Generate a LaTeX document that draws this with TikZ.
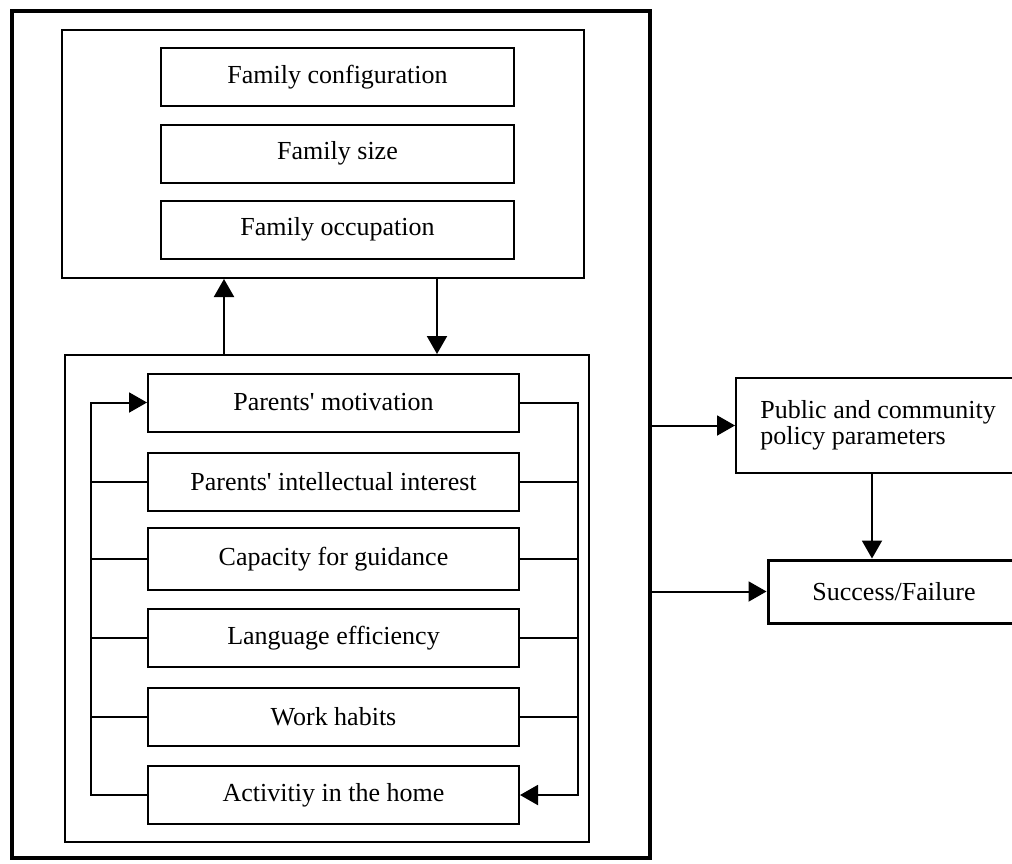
\documentclass[tikz,border=0pt]{standalone}
\usepackage{fontspec}
\setmainfont{Liberation Serif}
\usetikzlibrary{arrows.meta}
\begin{document}
\begin{tikzpicture}[x=.5pt, y=-.5pt, >={Triangle[length=9pt,width=10pt]},
  every node/.style={font=\fontsize{13}{13}\selectfont},
  famitem/.style={draw, line width=1pt, minimum width=176.5pt, minimum height=29pt, inner sep=0pt},
  homeitem/.style={draw, line width=1pt, minimum width=185.5pt, minimum height=29pt, inner sep=0pt},
  frame/.style={draw, line width=1pt, inner sep=0pt}]
\useasboundingbox (0,0) rectangle (1012,863);
\clip (0,0) rectangle (1012,863);
\node[frame, line width=2pt, minimum width=319pt, minimum height=423.5pt] (outer) at (331,434.5) {};
\node[frame, minimum width=261pt, minimum height=124pt] (fam) at (323,154) {};
\node[famitem] (config) at (337.5,77) {Family configuration};
\node[famitem] (size) at (337.5,153.5) {Family size};
\node[famitem] (occ) at (337.5,229.5) {Family occupation};
\node[frame, minimum width=262pt, minimum height=243.5pt] (home) at (327,598.5) {};
\node[homeitem] (mot) at (333.5,402.5) {Parents\textquotesingle{} motivation};
\node[homeitem] (int) at (333.5,481.5) {Parents\textquotesingle{} intellectual interest};
\node[homeitem, minimum height=31pt] (cap) at (333.5,559) {Capacity for guidance};
\node[homeitem] (lang) at (333.5,638) {Language efficiency};
\node[homeitem] (work) at (333.5,716.5) {Work habits};
\node[homeitem] (act) at (333.5,795) {Activitiy in the home};
\node[frame, minimum width=142pt, minimum height=47.5pt, align=left] (pub) at (878,425.5) {Public and community\\policy parameters};
\node[frame, line width=1.5pt, minimum width=126pt, minimum height=31.5pt] (succ) at (894,591.5) {Success/Failure};
\coordinate (lb) at (91,0);
\coordinate (rb) at (578,0);
\coordinate (ux) at (224,0);
\coordinate (dx) at (437,0);
\coordinate (vx) at (872,0);
\draw[->, line width=1pt] (home.north -| ux) -- (fam.south -| ux);
\draw[->, line width=1pt] (fam.south -| dx) -- (home.north -| dx);
\draw[->, line width=1pt] (act.west) -- (act.west -| lb) -- (mot.west -| lb) -- (mot.west);
\draw[->, line width=1pt] (mot.east) -- (mot.east -| rb) -- (act.east -| rb) -- (act.east);
\foreach \n in {int,cap,lang,work}
  \draw[line width=1pt] (\n.west -| lb) -- (\n.west) (\n.east) -- (\n.east -| rb);
\draw[->, line width=1pt] (outer.east |- pub.west) -- (pub.west);
\draw[->, line width=1pt] (outer.east |- succ.west) -- (succ.west);
\draw[->, line width=1pt] (pub.south -| vx) -- (succ.north -| vx);
\end{tikzpicture}
\end{document}
